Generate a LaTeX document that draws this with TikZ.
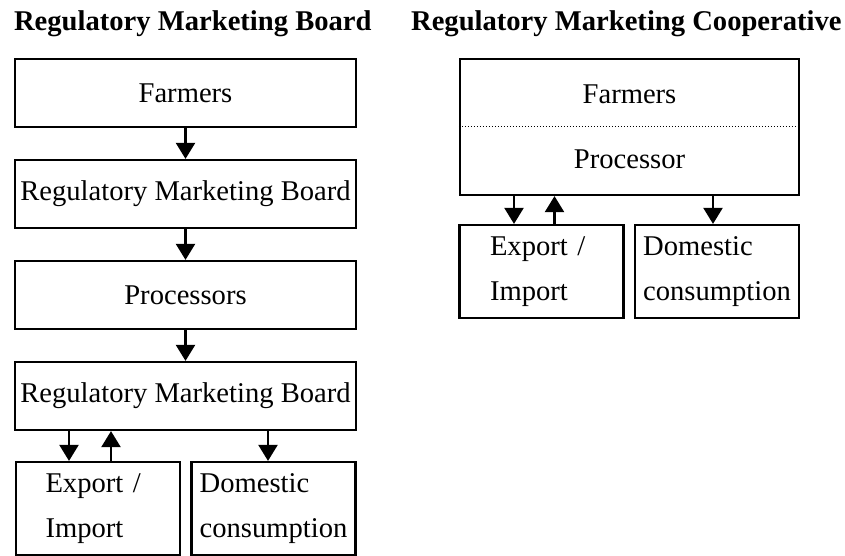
\documentclass[tikz,border=0pt]{standalone}
\usepackage{fontspec}
\setmainfont{Liberation Serif}
\usetikzlibrary{arrows.meta}

\begin{document}
\begin{tikzpicture}[x=1pt, y=-1pt, > = {Triangle[width=19pt,length=16pt]}, line width=2.2pt, font=\fontsize{28.6}{45}\selectfont]
            \tikzstyle{caixa}=[rectangle, draw, inner sep=2pt, minimum width=341pt, minimum height=68pt]
            \tikzstyle{saida}=[rectangle, draw, inner sep=2pt, minimum width=164pt, minimum height=93pt, align=left]
            \tikzstyle{titulo}=[anchor=base west, inner sep=0pt, font=\fontsize{28.6}{45}\selectfont\bfseries]

                \useasboundingbox (0,0) rectangle (845,556);

                % Títulos
                \node[titulo] (tboard) at (13,31) {Regulatory Marketing Board};
                \node[titulo] (tcoop) at (410,31) {Regulatory Marketing Cooperative};

                % Caixas (board)
                \node[caixa] (farmers) at (185.5,93) {Farmers};
                \node[caixa] (rmb1) at (185.5,194) {Regulatory Marketing Board};
                \node[caixa] (proc) at (185.5,295) {Processors};
                \node[caixa] (rmb2) at (185.5,396) {Regulatory Marketing Board};
                \node[saida, text width=105pt] (exp) at (98,508.5) {Export /\\Import};
                \node[saida] (dom) at (273.5,508.5) {Domestic\\consumption};

                % Caixas (cooperative)
                \node[caixa, minimum width=339pt, minimum height=136pt, align=center] (coop) at (629.5,127) {Farmers\\[20pt]Processor};
                \node[saida, text width=103pt] (cexp) at (541.5,271.5) {Export /\\Import};
                \node[saida] (cdom) at (717,271.5) {Domestic\\consumption};
                \draw[dotted, line width=1pt] (coop.west) -- (coop.east);

                % Pontos das setas
                \coordinate (e1) at ([xshift=-29pt]exp.north);
                \coordinate (e2) at ([xshift=13pt]exp.north);
                \coordinate (d1) at ([xshift=-5.5pt]dom.north);
                \coordinate (c1) at ([xshift=-27.5pt]cexp.north);
                \coordinate (c2) at ([xshift=13pt]cexp.north);
                \coordinate (c3) at ([xshift=-4pt]cdom.north);

                % Setas
                \draw[->] (farmers) -- (rmb1);
                \draw[->] (rmb1) -- (proc);
                \draw[->] (proc) -- (rmb2);
                \draw[->] (e1 |- rmb2.south) -- (e1);
                \draw[->] (e2) -- (e2 |- rmb2.south);
                \draw[->] (d1 |- rmb2.south) -- (d1);
                \draw[->] (c1 |- coop.south) -- (c1);
                \draw[->] (c2) -- (c2 |- coop.south);
                \draw[->] (c3 |- coop.south) -- (c3);
        \end{tikzpicture}
\end{document}
